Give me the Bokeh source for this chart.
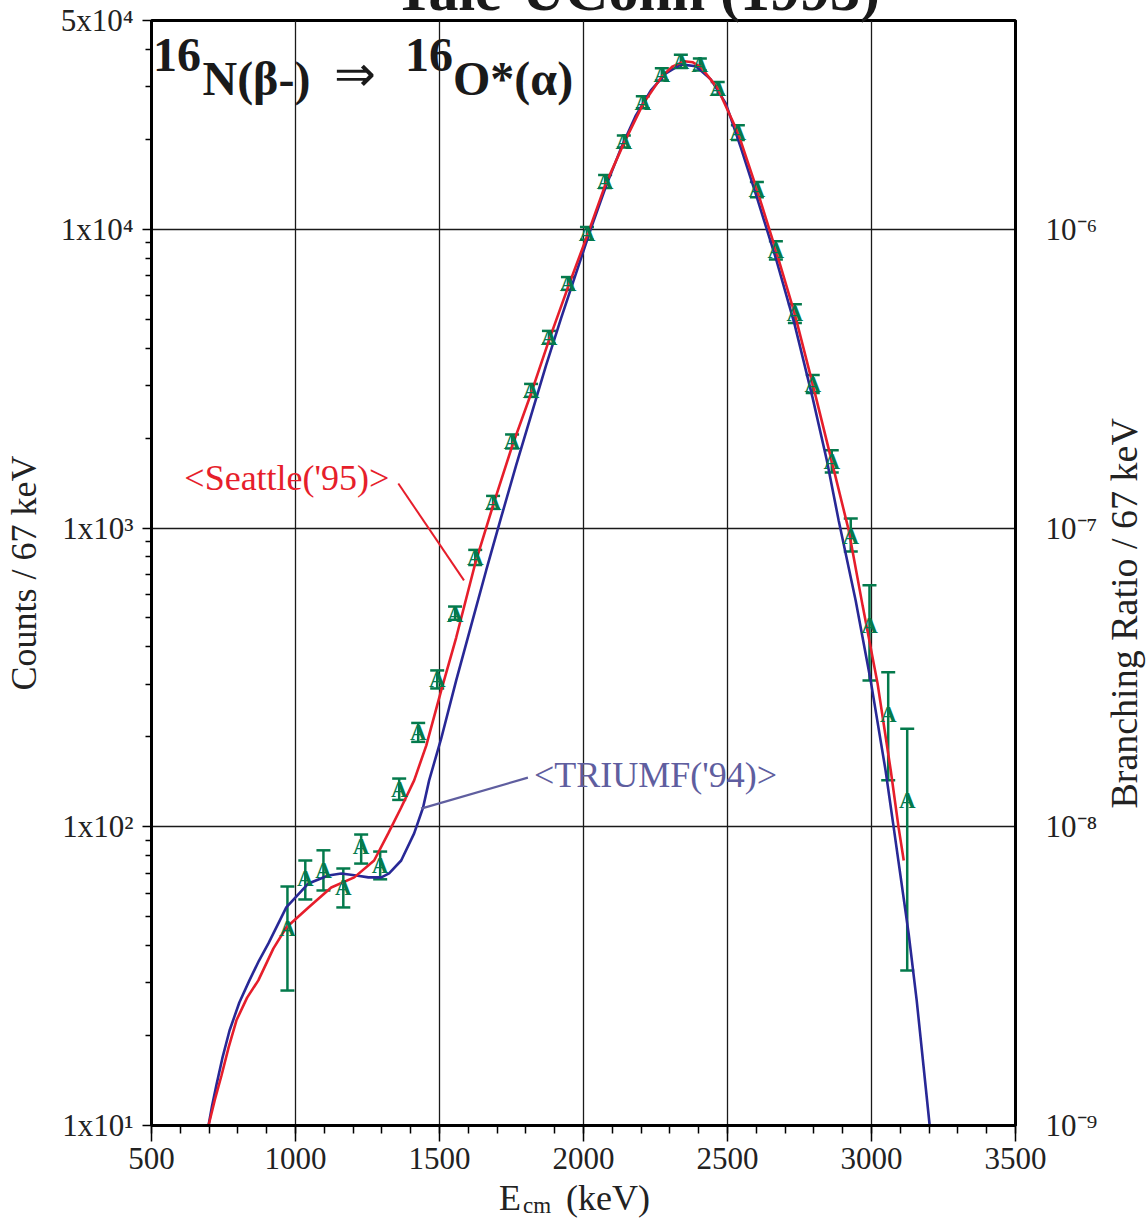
import math
from bokeh.plotting import figure
from bokeh.models import (Range1d, LogAxis, FixedTicker, Label, Whisker, TeeHead,
                          ColumnDataSource, LogScale)
from bokeh.core.properties import value
from bokeh.embed import file_html
from bokeh.resources import INLINE

FONT = "Liberation Serif"
RED = "#e61e2b"
BLUE = "#282896"
GREEN = "#047a4c"
PURPLE = "#5f5e9f"

# ---------------- data ----------------
# Yale-UConn data points (E_cm keV, counts / 67 keV, error bar limits)
pt_x = [972, 1034, 1097, 1166, 1228, 1294, 1360, 1426, 1492, 1554, 1624, 1686, 1752, 1818,
        1880, 1946, 2012, 2075, 2140, 2206, 2272, 2338, 2404, 2466, 2536, 2602, 2668, 2734,
        2796, 2862, 2928, 2993, 3058, 3124]
pt_y = [45.6, 67.2, 71.4, 62.7, 85.9, 74.1, 133, 207, 311, 514, 797, 1219, 1951, 2890,
        4350, 6590, 9690, 14460, 19680, 26600, 33000, 36500, 35600, 29600, 21100, 13600, 8500,
        5220, 3030, 1672, 937, 472, 238, 122.5]
pt_hi = [63.1, 77.1, 83.4, 72.5, 94.2, 82.6, 145, 222.6, 333.7, 546, 845, 1281, 2057, 3037,
         4570, 6920, 10180, 15200, 20600, 27900, 34600, 38400, 37300, 31100, 22300, 14400, 9120,
         5610, 3250, 1820, 1076, 643, 329, 213]
pt_lo = [28.3, 57.1, 61.2, 53.7, 75.3, 66.7, 123, 192.4, 290.4, 493, 752, 1159, 1847, 2748,
         4140, 6270, 9220, 13760, 18800, 25400, 31500, 34700, 34000, 28200, 19900, 12800, 7920,
         4860, 2830, 1535, 835, 309, 143, 33]

# Seattle('95) fit curve
red_x = [698, 720, 743, 768, 795, 832, 871, 923, 968, 1045, 1124, 1204, 1273, 1322, 1367, 1412,
         1454, 1506, 1558, 1624, 1686, 1752, 1818, 1880, 1946, 2012, 2075, 2140, 2206, 2272,
         2310, 2349, 2380, 2408, 2466, 2536, 2602, 2668, 2733, 2796, 2862, 2921, 2969, 3021,
         3067, 3094, 3112]
red_y = [10, 12.2, 14.7, 18.3, 22.5, 26.8, 30.6, 39.1, 46.0, 53.7, 62.6, 67.7, 77.1, 95.0, 116,
         143, 187, 286, 430, 761, 1190, 1876, 2822, 4247, 6391, 9469, 14030, 19390, 26190, 32500,
         35120, 36500, 36220, 34840, 29620, 21100, 13600, 8500, 5229, 3025, 1671, 982, 551, 302,
         154, 99.5, 77.1]

# TRIUMF('94) fit curve
blue_x = [698, 710, 725, 746, 771, 805, 840, 873, 906, 968, 1045, 1114, 1159, 1211, 1253, 1298,
          1325, 1367, 1412, 1443, 1464, 1506, 1558, 1610, 1662, 1714, 1766, 1818, 1870, 1922,
          1974, 2026, 2078, 2130, 2182, 2234, 2286, 2338, 2390, 2442, 2494, 2546, 2602, 2668,
          2733, 2796, 2845, 2886, 2945, 2997, 3049, 3077, 3129, 3157, 3202]
blue_y = [10, 11.6, 13.6, 16.8, 20.8, 25.8, 30.6, 35.6, 40.7, 53.7, 64.6, 68.7, 69.8, 68.7, 67.7,
          67.7, 69.8, 77.1, 95.0, 116, 143, 197.5, 309, 472, 721, 1085, 1620, 2382, 3502, 5031,
          7119, 10070, 13920, 18660, 24060, 29170, 33260, 35660, 35120, 31760, 26390, 18800,
          12790, 7990, 4804, 2716, 1684, 1060, 572, 309, 154, 99.5, 43.9, 26.2, 10]

# axes
x_ticks = [500, 1000, 1500, 2000, 2500, 3000, 3500]
x_minor = [v for v in range(500, 3501, 100)]
x_grid = [1000, 1500, 2000, 2500, 3000]
y_ticks = [10, 100, 1000, 10000, 50000]
y_tick_labels = ["1x10\u00b9", "1x10\u00b2", "1x10\u00b3", "1x10\u2074", "5x10\u2074"]
y_minor = [20, 30, 40, 50, 60, 70, 80, 90, 200, 300, 400, 500, 600, 700, 800, 900,
           2000, 3000, 4000, 5000, 6000, 7000, 8000, 9000, 20000, 30000, 40000]
y_grid = [100, 1000, 10000]
br_ticks = [1e-9, 1e-8, 1e-7, 1e-6]
br_tick_labels = ["10\u207b\u2079", "10\u207b\u2078", "10\u207b\u2077", "10\u207b\u2076"]

# annotation pointer lines
seattle_line_x = [1357, 1585]
seattle_line_y = [1410, 668]
triumf_line_x = [1807, 1436]
triumf_line_y = [146, 115]

# ---------------- figure ----------------
p = figure(width=1148, height=1218, x_range=Range1d(500, 3500), y_range=Range1d(10, 50000),
           y_axis_type="log", output_backend="svg", toolbar_location=None,
           min_border_left=150, min_border_right=133, min_border_top=20, min_border_bottom=93)
p.background_fill_color = "white"
p.border_fill_color = "white"
p.outline_line_color = "black"
p.outline_line_width = 3

# left axis
ya = p.yaxis[0]
ya.ticker = FixedTicker(ticks=y_ticks, minor_ticks=y_minor)
ya.major_label_overrides = dict(zip(y_ticks, y_tick_labels))
ya.major_label_text_font = FONT
ya.major_label_text_font_size = "31px"
ya.major_label_text_color = "#222222"
ya.major_label_standoff = 9
ya.major_tick_out = 9
ya.major_tick_in = 0
ya.minor_tick_out = 6
ya.minor_tick_in = 0
ya.major_tick_line_width = 1.5
ya.minor_tick_line_width = 1.5
ya.axis_line_width = 3
ya.axis_label = "Counts / 67 keV"
ya.axis_label_text_font = FONT
ya.axis_label_text_font_size = "36px"
ya.axis_label_text_font_style = "normal"
ya.axis_label_text_color = "#222222"
ya.axis_label_standoff = 14

# bottom axis
xa = p.xaxis[0]
xa.ticker = FixedTicker(ticks=x_ticks, minor_ticks=x_minor)
xa.major_label_text_font = FONT
xa.major_label_text_font_size = "31px"
xa.major_label_text_color = "#222222"
xa.major_label_standoff = 6
xa.major_tick_out = 16
xa.major_tick_in = 0
xa.minor_tick_out = 8
xa.minor_tick_in = 0
xa.major_tick_line_width = 1.5
xa.minor_tick_line_width = 1.5
xa.axis_line_width = 3

# right axis : branching ratio
p.extra_y_ranges = {"br": Range1d(1e-9, 5e-6)}
p.extra_y_scales = {"br": LogScale()}
ra = LogAxis(y_range_name="br", ticker=FixedTicker(ticks=br_ticks))
ra.major_label_overrides = dict(zip(br_ticks, br_tick_labels))
ra.major_label_text_font = FONT
ra.major_label_text_font_size = "31px"
ra.major_label_text_color = "#222222"
ra.major_label_standoff = 30
ra.major_tick_out = 0
ra.major_tick_in = 0
ra.minor_tick_out = 0
ra.minor_tick_in = 0
ra.axis_line_width = 3
p.add_layout(ra, "right")

# grid
p.xgrid.ticker = FixedTicker(ticks=x_grid)
p.ygrid.ticker = FixedTicker(ticks=y_grid)
for g in (p.xgrid[0], p.ygrid[0]):
    g.grid_line_color = "#1a1a1a"
    g.grid_line_width = 1.3
    g.grid_line_alpha = 1.0

# ---------------- curves ----------------
p.line(blue_x, blue_y, line_color=BLUE, line_width=2.6)
p.line(red_x, red_y, line_color=RED, line_width=2.6)

# pointers
p.line(seattle_line_x, seattle_line_y, line_color=RED, line_width=2)
p.line(triumf_line_x, triumf_line_y, line_color=PURPLE, line_width=2.2)

# ---------------- data points ----------------
src = ColumnDataSource(dict(x=pt_x, y=pt_y, lo=pt_lo, hi=pt_hi))
p.add_layout(Whisker(source=src, base="x", lower="lo", upper="hi", dimension="height",
                     line_color=GREEN, line_width=2.5,
                     upper_head=TeeHead(size=14, line_color=GREEN, line_width=2.5),
                     lower_head=TeeHead(size=14, line_color=GREEN, line_width=2.5)))
p.text(x="x", y="y", text=value("A"), source=src, text_font=value(FONT),
       text_font_size=value("23px"), text_font_style="bold", text_color=GREEN,
       text_align="center", text_baseline="middle")

# ---------------- texts inside the frame ----------------
def lab(x, y, t, size, color="#1a1a1a", style="normal", align="left", baseline="middle"):
    p.add_layout(Label(x=x, y=y, text=t, text_font=FONT, text_font_size=size,
                       text_font_style=style, text_color=color, text_align=align,
                       text_baseline=baseline))

lab(614, 1466, "<Seattle('95)>", "36px", color=RED)
lab(1828, 148.5, "<TRIUMF('94)>", "36px", color=PURPLE)

# reaction label
lab(505, 38220, "16", "48px", style="bold")
lab(677, 32010, "N(\u03b2-)", "48px", style="bold")
lab(1135, 33000, "\u21d2", "50px")
lab(1380, 38220, "16", "48px", style="bold")
lab(1547, 32010, "O*(\u03b1)", "48px", style="bold")

# ---------------- texts outside the frame (overlay level, not clipped) ----------------
title_src = ColumnDataSource(dict(x=[2182], y=[63070], t=["Yale-UConn (1993)"]))
p.text(x="x", y="y", text="t", source=title_src, text_font=value(FONT),
       text_font_size=value("60px"), text_font_style="bold", text_color="#1a1a1a",
       text_align="center", text_baseline="middle", level="overlay")

xlab_big = ColumnDataSource(dict(x=[1707, 1939], y=[5.70, 5.70], t=["E", "(keV)"]))
p.text(x="x", y="y", text="t", source=xlab_big, text_font=value(FONT),
       text_font_size=value("36px"), text_color="#222222",
       text_align="left", text_baseline="middle", level="overlay")
xlab_sub = ColumnDataSource(dict(x=[1790], y=[5.40], t=["cm"]))
p.text(x="x", y="y", text="t", source=xlab_sub, text_font=value(FONT),
       text_font_size=value("23px"), text_color="#222222",
       text_align="left", text_baseline="middle", level="overlay")

# right-hand axis title (reads bottom to top, like the left one)
rlab = ColumnDataSource(dict(x=[3878], y=[518], t=["Branching Ratio / 67 keV"]))
p.text(x="x", y="y", text="t", source=rlab, angle=math.pi / 2, text_font=value(FONT),
       text_font_size=value("38px"), text_color="#222222",
       text_align="center", text_baseline="middle", level="overlay")

open("out.html", "w").write(file_html(p, INLINE))
